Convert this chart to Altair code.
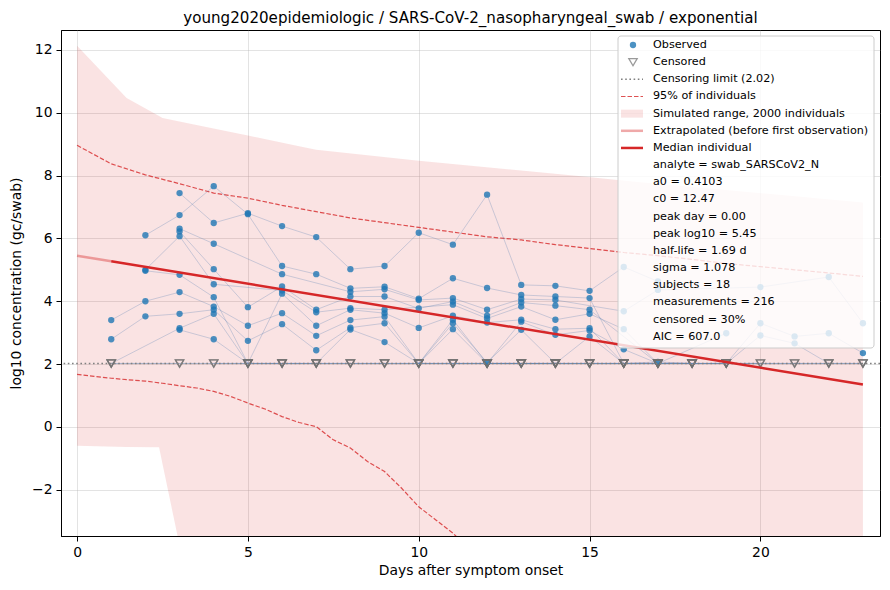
import altair as alt
import pandas as pd

TITLE = "young2020epidemiologic / SARS-CoV-2_nasopharyngeal_swab / exponential"
LOD = 2.02
C = "censored"

# per-subject measurements: day -> log10 value, C = below censoring limit
S01 = {3: 7.44, 4: 6.49, 5: 6.80, 6: 6.39, 7: 6.04, 8: 5.02, 9: 5.12, 10: 6.18, 11: 5.80,
       12: 7.39, 13: 4.52, 14: 4.49, 15: 4.33, 16: 5.09, 17: 4.63}
S02 = {2: 6.10, 3: 6.74, 4: 7.66, 5: 6.77, 6: 5.12, 7: 4.86, 8: 4.41, 9: 4.46, 10: 4.08,
       11: 4.73, 12: 4.42, 13: 4.20, 14: 4.15, 15: 4.10, 16: C}
S03 = {3: 6.31, 4: 5.83, 6: 4.86, 8: 4.30, 9: 4.38, 10: 4.04, 11: 4.10, 12: 3.73, 13: 4.07,
       14: 4.04, 16: 3.68, 17: 4.36, 20: 4.45, 22: 4.77, 23: 3.30}
S04 = {3: 6.22, 4: 5.02, 5: 3.81, 6: 4.47, 7: 3.73, 8: 4.15, 9: 4.15, 10: 3.77, 11: 3.99,
       12: 3.54, 13: 3.96, 14: 3.86, 15: 3.73, 17: C}
S05 = {2: 5.00, 3: 6.07, 4: 4.54, 6: 4.34, 7: 3.65, 8: 3.78, 9: 3.73, 11: 3.89, 12: 3.45,
       13: 3.83, 14: 3.41, 15: 3.60, 16: 3.11, 17: C, 19: 2.98}
S06 = {2: 4.97, 3: 4.84, 4: 4.13, 5: C, 6: 4.24, 7: 3.22, 8: 3.73, 9: 3.62, 10: 3.15,
       11: 3.54, 12: 3.32, 13: 3.41, 14: 3.11, 15: 3.14, 16: C}
S07 = {1: 3.40, 2: 4.00, 3: 4.29, 4: 3.83, 5: 3.22, 6: 3.62, 7: 2.90, 8: 3.40, 9: 3.51,
       10: C, 11: 3.41, 12: C, 13: 3.35, 14: 2.93, 15: 3.07, 16: 2.47, 17: C}
S08 = {1: 2.79, 2: 3.52, 3: 3.60, 4: 3.73, 5: 2.74, 6: 3.27, 7: 2.44, 8: 3.16, 9: 3.30,
       10: C, 11: 3.30, 12: 2.05, 13: 3.09, 14: C, 15: 2.88, 16: C, 17: 2.07, 18: C}
S09 = {1: C, 3: 3.14, 4: 3.60, 5: C, 6: C, 7: C, 8: 3.10, 9: 2.70, 10: C, 11: 3.11, 12: C,
       13: C, 14: C, 15: C, 16: C, 17: C, 18: C}
S10 = {3: 3.09, 4: 2.79, 5: C, 6: C, 7: C, 8: C, 9: C, 11: C, 12: C, 13: C, 14: C, 15: C,
       16: C, 18: C, 19: C, 20: C}
S11 = {1: C, 3: C, 4: C, 5: C, 6: C, 7: C, 8: C, 9: C, 10: C, 11: C, 12: C, 13: C, 14: C, 15: C}
S12 = {10: C, 12: C, 14: C, 16: C, 17: C, 18: C, 19: C, 20: 3.30, 21: 2.88, 22: 2.98, 23: 2.35}
S13 = {15: C, 17: C, 19: C, 20: 2.91, 21: 2.66, 22: C, 23: C}
S14 = {1: C, 3: C, 5: C, 7: C, 9: C, 11: C, 13: C}
S15 = {4: C, 6: C, 8: C, 10: C, 12: C, 14: C}
S16 = {17: C, 18: C, 19: C, 20: C, 21: C, 22: C, 23: C}
S17 = {12: C, 13: C, 15: C, 18: C, 21: C, 23: C}
S18 = {11: C, 14: C, 16: C, 19: C, 22: C}
SUBJECTS = [S01, S02, S03, S04, S05, S06, S07, S08, S09, S10, S11, S12, S13, S14, S15, S16, S17, S18]

# simulated range (min / max of 2000 simulated individuals)
BAND_DAYS = [0, 1.45, 2.4, 2.5, 3.6, 5, 6.5, 7, 10, 14.6, 16.25, 23]
BAND_HIGH = [12.13, 10.47, 9.89, 9.83, 9.58, 9.27, 8.93, 8.82, 8.47, 7.99, 7.81, 7.14]
BAND_LOW = [-0.60, -0.64, -0.65, -1.17, -6.9, -8.0, -9.0, -9.3, -11.0, -13.0, -13.5, -15.0]

# 95% of individuals
P_HIGH_DAYS = list(range(0, 24))
P_HIGH = [8.96, 8.37, 8.02, 7.74, 7.44, 7.28, 7.05, 6.85, 6.65, 6.50, 6.35, 6.20,
          6.05, 5.95, 5.80, 5.68, 5.55, 5.45, 5.33, 5.20, 5.10, 5.00, 4.90, 4.79]
P_LOW_DAYS = [0, 0.5, 1, 1.5, 2, 2.5, 3, 3.5, 4, 4.5, 5, 5.5, 6, 6.5, 7, 7.5, 8, 8.5,
              9, 9.5, 10, 10.5, 11, 11.5]
P_LOW = [1.67, 1.61, 1.55, 1.50, 1.46, 1.39, 1.31, 1.24, 1.13, 0.97, 0.76, 0.57,
         0.33, 0.14, 0.01, -0.41, -0.67, -1.10, -1.42, -1.95, -2.54, -2.96, -3.38, -3.90]

# median individual
EXTRAP_DAYS = [0, 1]
EXTRAP = [5.45, 5.27]
MEDIAN_DAYS = [1, 23]
MEDIAN = [5.27, 1.35]

LEGEND_LABELS = [
    "Observed", "Censored", "Censoring limit (2.02)", "95% of individuals",
    "Simulated range, 2000 individuals", "Extrapolated (before first observation)",
    "Median individual", "analyte = swab_SARSCoV2_N", "a0 = 0.4103", "c0 = 12.47",
    "peak day = 0.00", "peak log10 = 5.45", "half-life = 1.69 d", "sigma = 1.078",
    "subjects = 18", "measurements = 216", "censored = 30%", "AIC = 607.0",
]

RED = "#d62728"
BLUE = "#1f77b4"
GREY = "#707070"
FONT = "DejaVu Sans"
W, H = 819, 506

rows = []
for i, subj in enumerate(SUBJECTS):
    for day, val in subj.items():
        cens = val == C
        rows.append({"subject": i, "day": day, "value": LOD if cens else val, "censored": cens})
meas = pd.DataFrame(rows)

xs = alt.Scale(domain=[-0.47, 23.5], nice=False, zero=False)
ys = alt.Scale(domain=[-3.47, 12.63], nice=False, zero=False)
X = alt.X("day:Q", scale=xs, title="Days after symptom onset",
          axis=alt.Axis(values=[0, 5, 10, 15, 20], format="d"))
Y_AX = alt.Axis(values=[-2, 0, 2, 4, 6, 8, 10, 12], format="d")

band = alt.Chart(pd.DataFrame({"day": BAND_DAYS, "hi": BAND_HIGH, "lo": BAND_LOW})).mark_area(
    color=RED, opacity=0.13, clip=True
).encode(
    x=X,
    y=alt.Y("lo:Q", scale=ys, axis=Y_AX, title="log10 concentration (gc/swab)"),
    y2="hi:Q",
)

p_hi = alt.Chart(pd.DataFrame({"day": P_HIGH_DAYS, "v": P_HIGH})).mark_line(
    color=RED, opacity=0.8, strokeWidth=1.2, strokeDash=[4.5, 2], clip=True
).encode(x=X, y=alt.Y("v:Q", scale=ys))
p_lo = alt.Chart(pd.DataFrame({"day": P_LOW_DAYS, "v": P_LOW})).mark_line(
    color=RED, opacity=0.8, strokeWidth=1.2, strokeDash=[4.5, 2], clip=True
).encode(x=X, y=alt.Y("v:Q", scale=ys))

traj = alt.Chart(meas).mark_line(color="#5a82b4", opacity=0.3, strokeWidth=1).encode(
    x=X, y=alt.Y("value:Q", scale=ys), detail="subject:N", order="day:Q"
)

obs = alt.Chart(meas).transform_filter("!datum.censored").mark_point(
    shape="circle", filled=True, color=BLUE, opacity=0.8, size=40
).encode(x=X, y=alt.Y("value:Q", scale=ys))

cens = alt.Chart(meas).transform_filter("datum.censored").mark_point(
    shape="triangle-down", filled=False, color=GREY, strokeWidth=1.3, size=70
).encode(x=X, y=alt.Y("value:Q", scale=ys))

lod = alt.Chart(pd.DataFrame({"v": [LOD]})).mark_rule(
    color="#808080", strokeWidth=1.6, strokeDash=[1.6, 2.6]
).encode(y=alt.Y("v:Q", scale=ys))

extrap = alt.Chart(pd.DataFrame({"day": EXTRAP_DAYS, "v": EXTRAP})).mark_line(
    color=RED, opacity=0.4, strokeWidth=2.5
).encode(x=X, y=alt.Y("v:Q", scale=ys))
median = alt.Chart(pd.DataFrame({"day": MEDIAN_DAYS, "v": MEDIAN})).mark_line(
    color=RED, strokeWidth=2.5
).encode(x=X, y=alt.Y("v:Q", scale=ys))

# legend box drawn in pixel space, like matplotlib's upper-right legend
one = pd.DataFrame({"a": [0]})
LX0, LX1, LY0, LY1 = 557, 813, 6, 318
ROW0, ROWH = 15, 17.16
SX0, SX1, SXC, TX = 560, 582, 572, 592


def ry(i):
    return ROW0 + i * ROWH


legend = [
    alt.Chart(one).mark_rect(
        fill="white", fillOpacity=0.8, stroke="#cccccc", strokeWidth=1, cornerRadius=3
    ).encode(x=alt.value(LX0), x2=alt.value(LX1), y=alt.value(LY0), y2=alt.value(LY1)),
    alt.Chart(one).mark_point(shape="circle", filled=True, color=BLUE, opacity=0.8, size=40)
    .encode(x=alt.value(SXC), y=alt.value(ry(0))),
    alt.Chart(one).mark_point(shape="triangle-down", filled=False, color=GREY,
                              strokeWidth=1.3, size=70)
    .encode(x=alt.value(SXC), y=alt.value(ry(1))),
    alt.Chart(one).mark_rule(color="#808080", strokeWidth=1.6, strokeDash=[1.6, 2.6])
    .encode(x=alt.value(SX0), x2=alt.value(SX1), y=alt.value(ry(2))),
    alt.Chart(one).mark_rule(color=RED, opacity=0.8, strokeWidth=1.2, strokeDash=[4.5, 2])
    .encode(x=alt.value(SX0), x2=alt.value(SX1), y=alt.value(ry(3))),
    alt.Chart(one).mark_rect(color=RED, opacity=0.13)
    .encode(x=alt.value(SX0), x2=alt.value(SX1), y=alt.value(ry(4) - 4), y2=alt.value(ry(4) + 4)),
    alt.Chart(one).mark_rule(color=RED, opacity=0.4, strokeWidth=2.5)
    .encode(x=alt.value(SX0), x2=alt.value(SX1), y=alt.value(ry(5))),
    alt.Chart(one).mark_rule(color=RED, strokeWidth=2.5)
    .encode(x=alt.value(SX0), x2=alt.value(SX1), y=alt.value(ry(6))),
]
for i, label in enumerate(LEGEND_LABELS):
    legend.append(
        alt.Chart(one).mark_text(
            text=label, align="left", baseline="middle", font=FONT, fontSize=11.2, color="black"
        ).encode(x=alt.value(TX), y=alt.value(ry(i)))
    )

chart = alt.layer(
    band, p_hi, p_lo, traj, obs, cens, lod, extrap, median, *legend
).properties(
    width=W,
    height=H,
    title=alt.TitleParams(TITLE, font=FONT, fontSize=15.1, fontWeight="normal",
                          color="black", offset=4),
    autosize=alt.AutoSizeParams(type="none"),
    padding={"left": 53, "top": 22, "right": 2, "bottom": 46},
).configure_view(
    stroke="black", strokeWidth=1
).configure_axis(
    labelFont=FONT, titleFont=FONT, labelFontSize=13.9, titleFontSize=13.9,
    titleFontWeight="normal", labelColor="black", titleColor="black",
    tickColor="black", domainColor="black", tickSize=5, labelPadding=4,
    gridColor="#b0b0b0", gridOpacity=0.35,
).configure_axisY(
    titlePadding=8
).configure_axisX(
    titlePadding=5
)

chart.save("out.html", embed_options={"renderer": "svg", "actions": False})
